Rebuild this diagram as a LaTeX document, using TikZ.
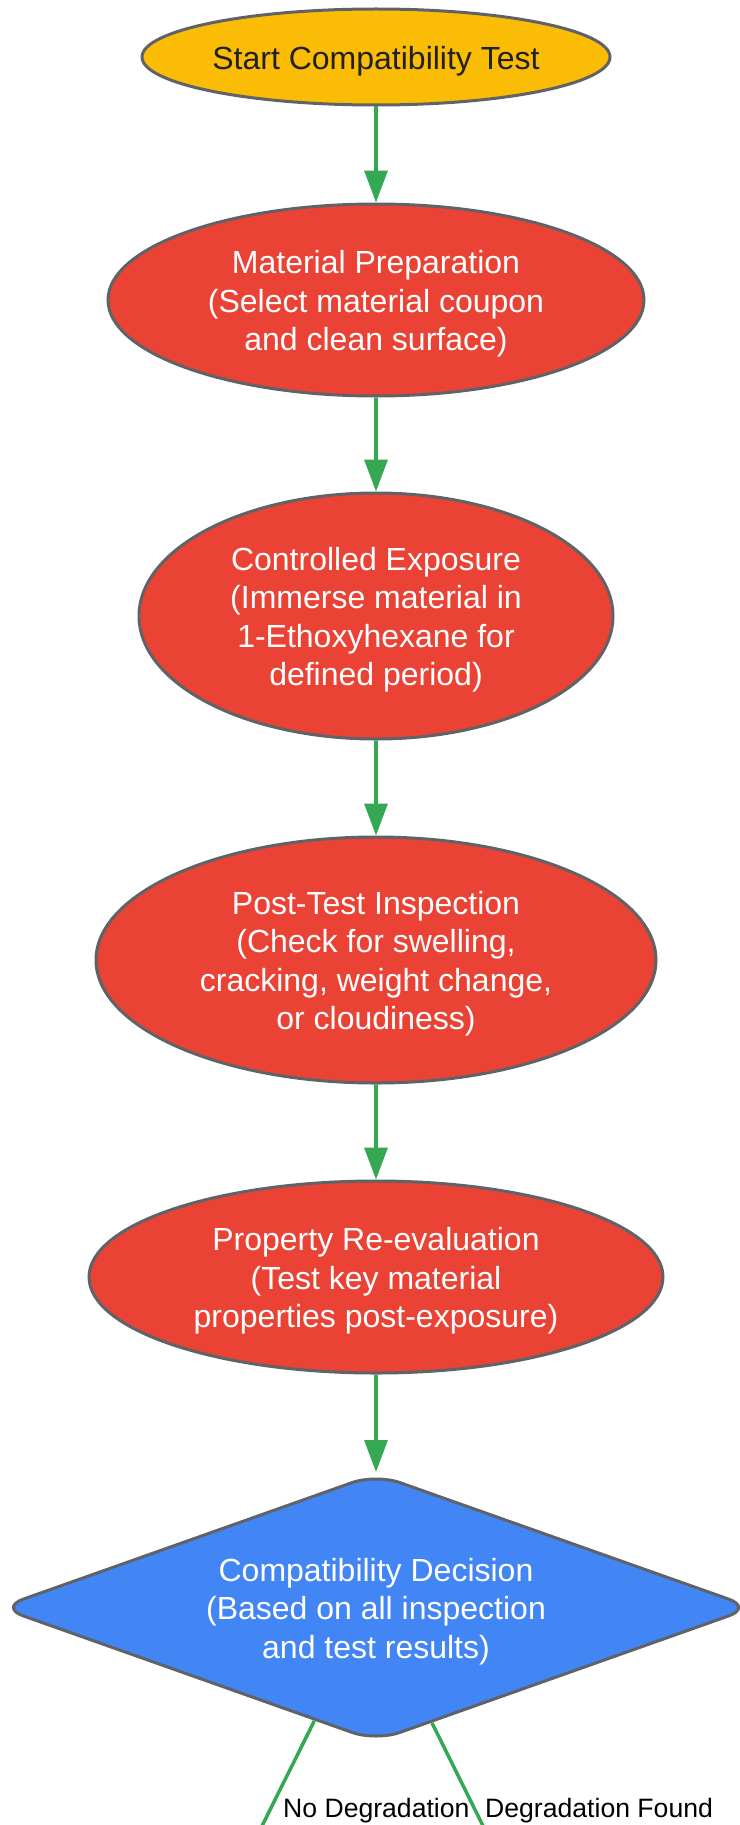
\documentclass[tikz,border=0pt]{standalone}
\usepackage{fontspec}
\setmainfont{Liberation Sans}
\usetikzlibrary{shapes.geometric,arrows.meta,calc}
\definecolor{cyellow}{HTML}{FBBC05}
\definecolor{cred}{HTML}{EA4335}
\definecolor{cblue}{HTML}{4285F4}
\definecolor{cgreen}{HTML}{34A853}
\definecolor{cgray}{HTML}{5F6368}
\definecolor{cdark}{HTML}{202124}
\newcommand{\topgap}{\rule{0pt}{31pt}}
\tikzset{
  nodefont/.style={font=\fontsize{32}{38.4}\selectfont, align=center},
  startbox/.style={ellipse, draw=cgray, line width=3pt, fill=cyellow, text=cdark, inner sep=0pt, nodefont},
  stepbox/.style={ellipse, draw=cgray, line width=3pt, fill=cred, text=white, inner sep=0pt, nodefont},
  decbox/.style={diamond, aspect=2.8, draw=cgray, line width=3pt, fill=cblue, text=white, inner sep=0pt, rounded corners=25pt, nodefont},
  flow/.style={draw=cgreen, line width=3.5pt, -{Triangle[width=23pt,length=32pt]}},
  branch/.style={draw=cgreen, line width=3.5pt},
  edgelabel/.style={font=\fontsize{26.6}{30}\selectfont, text=black, inner sep=0pt}
}
\begin{document}
\begin{tikzpicture}[x=1pt,y=-1pt]
\useasboundingbox (0,0) rectangle (739,1825);
\node[startbox, minimum width=468pt, minimum height=96pt] (start) at (376,57) {\topgap Start Compatibility Test};
\node[stepbox, minimum width=536pt, minimum height=192pt] (prep) at (376,300) {\topgap Material Preparation\\(Select material coupon\\and clean surface)};
\node[stepbox, minimum width=474pt, minimum height=246pt] (expo) at (376,616) {\topgap Controlled Exposure\\(Immerse material in\\1-Ethoxyhexane for\\defined period)};
\node[stepbox, minimum width=560pt, minimum height=246pt] (insp) at (376,960) {\topgap Post-Test Inspection\\(Check for swelling,\\cracking, weight change,\\or cloudiness)};
\node[stepbox, minimum width=574pt, minimum height=192pt] (reev) at (376,1277) {\topgap Property Re-evaluation\\(Test key material\\properties post-exposure)};
\node[decbox, minimum width=754pt, minimum height=268pt] (dec) at (376,1607.5) {\topgap Compatibility Decision\\(Based on all inspection\\and test results)};
\coordinate (noEnd) at (252,1846);
\coordinate (yesEnd) at (493,1846);
\draw[flow] (start) -- (prep);
\draw[flow] (prep) -- (expo);
\draw[flow] (expo) -- (insp);
\draw[flow] (insp) -- (reev);
\draw[flow] (reev) -- (dec);
\draw[branch] ($(dec.south)!0.163!(dec.west)$) -- (noEnd);
\draw[branch] ($(dec.south)!0.148!(dec.east)$) -- (yesEnd);
\node[edgelabel, anchor=base west] (noLabel) at (283,1817) {No Degradation};
\node[edgelabel, anchor=base west] (yesLabel) at (485,1817) {Degradation Found};
\end{tikzpicture}
\end{document}
